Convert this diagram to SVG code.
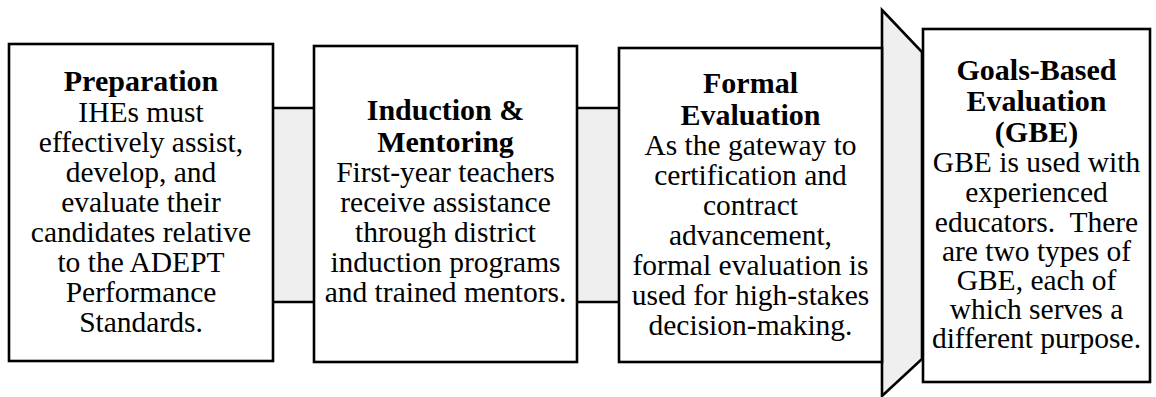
<svg xmlns="http://www.w3.org/2000/svg" width="1156" height="397" viewBox="0 0 1156 397">
<style>
.box{fill:#fff;stroke:#000;stroke-width:2.6}
.band{fill:#efefef;stroke:none}
.edge{stroke:#000;stroke-width:2.6;fill:none}
.arrow{fill:#efefef;stroke:#000;stroke-width:2.6;stroke-linejoin:miter}
.t{font-family:"Liberation Serif","Times New Roman",serif;font-size:30px;font-weight:bold;text-anchor:middle;fill:#000}
.b{font-family:"Liberation Serif","Times New Roman",serif;font-size:29.5px;text-anchor:middle;fill:#000}
</style>
<rect width="1156" height="397" fill="#fff"/>
<g id="connectors">
<rect class="band" x="273" y="108" width="41" height="194"/>
<line class="edge" x1="273" y1="108" x2="314" y2="108"/>
<line class="edge" x1="273" y1="302" x2="314" y2="302"/>
<rect class="band" x="577" y="108" width="42" height="194"/>
<line class="edge" x1="577" y1="108" x2="619" y2="108"/>
<line class="edge" x1="577" y1="302" x2="619" y2="302"/>
<polygon class="arrow" points="882,10 922,52 922,359 882,396"/>
</g>
<g id="preparation">
<rect class="box" x="9" y="44" width="264" height="317"/>
<text class="t" x="141" y="91">Preparation</text>
<text class="b" x="141" y="122">IHEs must</text>
<text class="b" x="141" y="152">effectively assist,</text>
<text class="b" x="141" y="182">develop, and</text>
<text class="b" x="141" y="212">evaluate their</text>
<text class="b" x="141" y="242">candidates relative</text>
<text class="b" x="141" y="272">to the ADEPT</text>
<text class="b" x="141" y="302">Performance</text>
<text class="b" x="141" y="332">Standards.</text>
</g>
<g id="induction">
<rect class="box" x="314" y="46" width="263" height="316"/>
<text class="t" x="445.5" y="120">Induction &amp;</text>
<text class="t" x="445.5" y="152">Mentoring</text>
<text class="b" x="445.5" y="182">First-year teachers</text>
<text class="b" x="445.5" y="212">receive assistance</text>
<text class="b" x="445.5" y="242">through district</text>
<text class="b" x="445.5" y="272">induction programs</text>
<text class="b" x="445.5" y="302">and trained mentors.</text>
</g>
<g id="formal">
<rect class="box" x="619" y="48" width="263" height="314"/>
<text class="t" x="750.5" y="93">Formal</text>
<text class="t" x="750.5" y="125">Evaluation</text>
<text class="b" x="750.5" y="155">As the gateway to</text>
<text class="b" x="750.5" y="185">certification and</text>
<text class="b" x="750.5" y="215">contract</text>
<text class="b" x="750.5" y="245">advancement,</text>
<text class="b" x="750.5" y="275">formal evaluation is</text>
<text class="b" x="750.5" y="305">used for high-stakes</text>
<text class="b" x="750.5" y="335">decision-making.</text>
</g>
<g id="gbe">
<rect class="box" x="923" y="29" width="227" height="353"/>
<text class="t" x="1036.5" y="80">Goals-Based</text>
<text class="t" x="1036.5" y="111">Evaluation</text>
<text class="t" x="1036.5" y="142">(GBE)</text>
<text class="b" x="1036.5" y="172">GBE is used with</text>
<text class="b" x="1036.5" y="202">experienced</text>
<text class="b" x="1036.5" y="232" xml:space="preserve">educators.  There</text>
<text class="b" x="1036.5" y="261">are two types of</text>
<text class="b" x="1036.5" y="290">GBE, each of</text>
<text class="b" x="1036.5" y="319">which serves a</text>
<text class="b" x="1036.5" y="348">different purpose.</text>
</g>
</svg>
